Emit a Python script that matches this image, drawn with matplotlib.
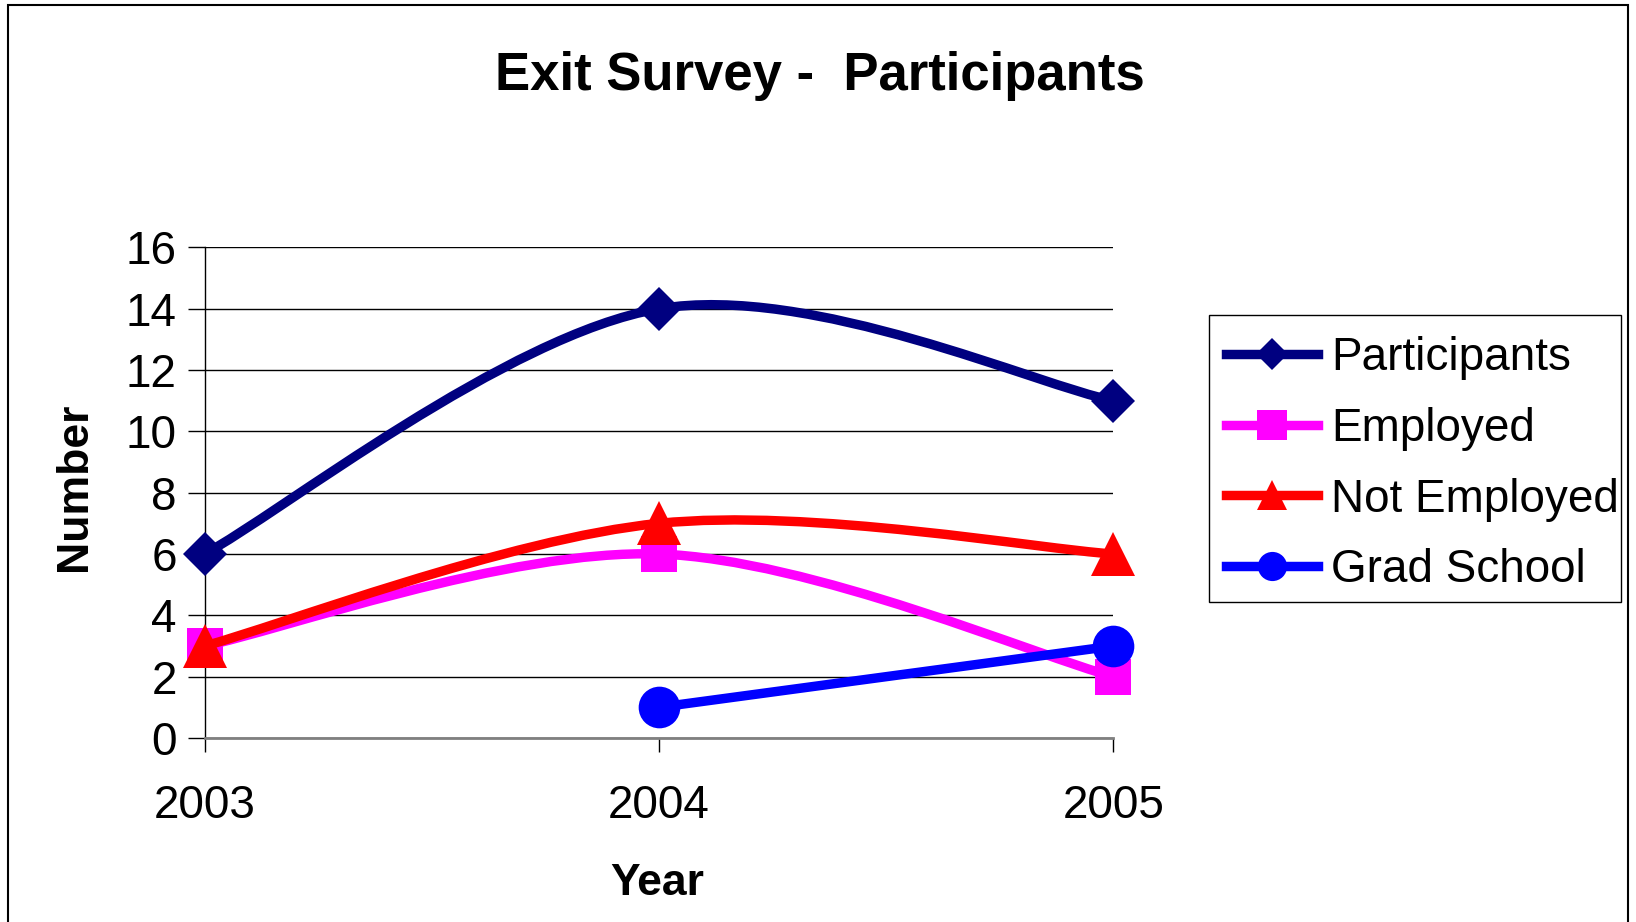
import numpy as np
import matplotlib.pyplot as plt
from matplotlib.path import Path
from matplotlib.patches import PathPatch, Rectangle
from matplotlib.lines import Line2D

plt.rcParams['font.family'] = ['Liberation Sans', 'DejaVu Sans']

years = ['2003', '2004', '2005']
participants = [6, 14, 11]
employed = [3, 6, 2]
not_employed = [3, 7, 6]
grad_school = [np.nan, 1, 3]

series = [
    ('Participants', participants, '#000080', 'D', 22, 16),
    ('Employed', employed, '#FF00FF', 's', 26, 21),
    ('Not Employed', not_employed, '#FF0000', '^', 31, 22),
    ('Grad School', grad_school, '#0000FF', 'o', 30, 21),
]


def smooth_path(x, y):
    # excel style smoothed line: cubic bezier through the points
    pts = [(a, b) for a, b in zip(x, y) if not np.isnan(b)]
    pts = np.array(pts, dtype=float)
    verts = [pts[0]]
    codes = [Path.MOVETO]
    n = len(pts)
    for i in range(n - 1):
        p0 = pts[i - 1] if i > 0 else pts[i]
        p1 = pts[i]
        p2 = pts[i + 1]
        p3 = pts[i + 2] if i + 2 < n else pts[i + 1]
        c1 = p1 + (p2 - p0) / 6
        c2 = p2 - (p3 - p1) / 6
        verts += [c1, c2, p2]
        codes += [Path.CURVE4] * 3
    return Path(verts, codes)


fig = plt.figure(figsize=(16.36, 9.22), dpi=100)
ax = fig.add_axes([0.125, 0.1996, 0.5556, 0.532])

x = np.arange(len(years))
handles = []
for k, (name, vals, color, mk, ms, lms) in enumerate(series):
    patch = PathPatch(smooth_path(x, vals), facecolor='none', edgecolor=color,
                      lw=6.8, capstyle='round', joinstyle='round',
                      transform=ax.transData, zorder=3 + 2 * k)
    ax.add_patch(patch)
    ax.plot(x, vals, linestyle='none', marker=mk, markersize=ms, color=color,
            markeredgewidth=0, zorder=4 + 2 * k, clip_on=False)
    handles.append(Line2D([], [], color=color, lw=6.8, marker=mk,
                          markersize=lms, markeredgewidth=0, label=name))

ax.set_xlim(0, 2)
ax.set_ylim(0, 16)
ax.set_yticks(range(0, 17, 2))
ax.set_xticks(x)
ax.set_xticklabels(years)
ax.tick_params(axis='y', labelsize=33, length=12, width=1, pad=8)
ax.tick_params(axis='x', labelsize=33, length=10, width=1, pad=23)
ax.grid(axis='y', color='black', lw=1)
ax.set_axisbelow(True)
for s in ['top', 'right']:
    ax.spines[s].set_visible(False)
ax.spines['left'].set_linewidth(1)
ax.spines['bottom'].set_color('#808080')
ax.spines['bottom'].set_linewidth(2)

fig.text(0.501, 0.918, 'Exit Survey -  Participants', fontsize=38,
         fontweight='bold', ha='center', va='center')
fig.text(0.0458, 0.472, 'Number', fontsize=32, fontweight='bold',
         rotation=90, ha='center', va='center')
fig.text(0.402, 0.042, 'Year', fontsize=32, fontweight='bold',
         ha='center', va='center')

# legend box drawn separately so its size matches the original
fig.patches.append(Rectangle((1209 / 1636, 1 - 602 / 922), 412 / 1636,
                             287 / 922, transform=fig.transFigure,
                             facecolor='white', edgecolor='black', lw=1,
                             zorder=5))
leg = fig.legend(handles=handles, loc='upper left',
                 bbox_to_anchor=(1209 / 1636, 1 - 318.5 / 922), fontsize=33,
                 handlelength=2.0, handletextpad=0.29, borderpad=0.38,
                 labelspacing=0.585, borderaxespad=0, frameon=False)
leg.set_zorder(6)

fig.patches.append(Rectangle((8 / 1636, -0.01), 1620 / 1636, 1.01 - 5 / 922,
                             transform=fig.transFigure, fill=False,
                             edgecolor='black', lw=1.5))

fig.savefig('out.png', dpi=100)
